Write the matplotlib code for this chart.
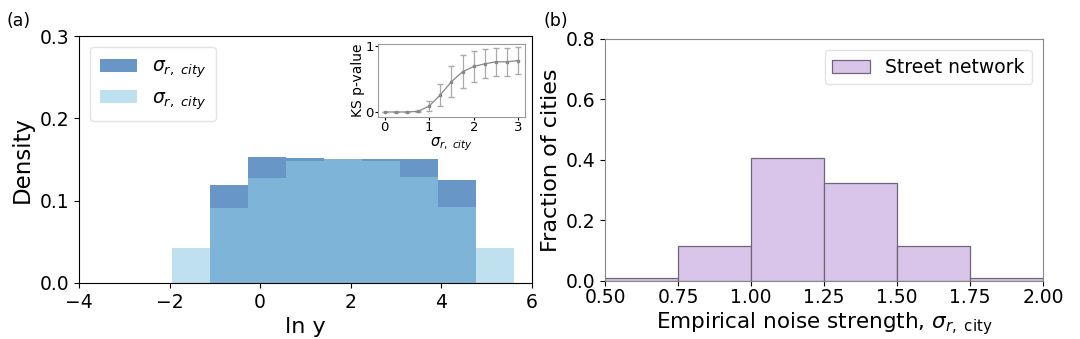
import numpy as np
import matplotlib
matplotlib.use("Agg")
import matplotlib.pyplot as plt

# ---- data ----
# panel (a): density histograms of ln y
dark_edges = [-1.11, -0.272, 0.566, 1.404, 2.242, 3.08, 3.918, 4.756]
dark_heights = [0.1196, 0.1535, 0.152, 0.151, 0.150, 0.1506, 0.1245]
light_edges = [-1.948, -1.11, -0.272, 0.566, 1.404, 2.242, 3.08, 3.918, 4.756, 5.594]
light_heights = [0.0424, 0.0914, 0.128, 0.148, 0.151, 0.1486, 0.129, 0.0927, 0.0429]
legend_labels = [r"$\sigma_{r,\ city}$", r"$\sigma_{r,\ city}$"]

# inset: KS p-value vs sigma
ks_sigma = [0.0, 0.25, 0.5, 0.75, 1.0, 1.25, 1.5, 1.75, 2.0, 2.25, 2.5, 2.75, 3.0]
ks_p = [0.0, 0.0, 0.0, 0.01, 0.09, 0.26, 0.46, 0.61, 0.69, 0.73, 0.76, 0.76, 0.78]
ks_err = [0.0, 0.0, 0.0, 0.005, 0.075, 0.17, 0.23, 0.25, 0.23, 0.22, 0.21, 0.21, 0.20]

# panel (b): fraction of cities
b_edges = [0.5, 0.75, 1.0, 1.25, 1.5, 1.75, 2.0]
b_fraction = [0.011, 0.115, 0.406, 0.323, 0.115, 0.011]
b_label = "Street network"

# ---- figure ----
fig = plt.figure(figsize=(10.8, 3.39), dpi=100)

ax1 = fig.add_axes([0.0731, 0.1652, 0.4195, 0.7286])
dw = np.diff(dark_edges)
lw_ = np.diff(light_edges)
ax1.bar(dark_edges[:-1], dark_heights, width=dw, align='edge',
        color='#6897c7', linewidth=0, label=legend_labels[0])
ax1.bar(light_edges[:-1], light_heights, width=lw_, align='edge',
        color='#8fcae5', alpha=0.58, linewidth=0, label=legend_labels[1])
ax1.set_xlim(-4, 6)
ax1.set_ylim(0, 0.3)
ax1.set_xticks([-4, -2, 0, 2, 4, 6])
ax1.set_yticks([0.0, 0.1, 0.2, 0.3])
ax1.tick_params(labelsize=13.5)
ax1.set_xlabel("ln y", fontsize=16)
ax1.set_ylabel("Density", fontsize=16.5)
ax1.legend(loc='upper left', fontsize=13.5, bbox_to_anchor=(0.0, 1.0),
           borderaxespad=0.6, framealpha=0.8, edgecolor='#dddddd',
           handleheight=0.7, labelspacing=0.45, borderpad=0.5)

# inset
axi = fig.add_axes([0.35, 0.6549, 0.1361, 0.2153])
axi.errorbar(ks_sigma, ks_p, yerr=ks_err, color='#888888', ecolor='#aaaaaa',
             marker='s', markersize=2, linewidth=0.9, elinewidth=0.9, capsize=2.5)
axi.set_xlim(-0.15, 3.15)
axi.set_ylim(-0.076, 1.03)
axi.set_xticks([0, 1, 2, 3])
axi.set_yticks([0, 1])
axi.tick_params(labelsize=9.5, length=2, pad=1)
for s in axi.spines.values():
    s.set_color('#999999')
axi.set_ylabel("KS p-value", fontsize=10, labelpad=0)
axi.set_xlabel(r"$\sigma_{r,\ city}$", fontsize=10.5, labelpad=1)

# panel b
ax2 = fig.add_axes([0.5602, 0.1711, 0.4055, 0.7139])
ax2.bar(b_edges[:-1], b_fraction, width=np.diff(b_edges), align='edge',
        color='#d9c5ea', edgecolor='#6f6578', linewidth=0.9, label=b_label)
ax2.set_xlim(0.5, 2.0)
ax2.set_ylim(0, 0.8)
ax2.set_xticks(b_edges)
ax2.set_xticklabels(["0.50", "0.75", "1.00", "1.25", "1.50", "1.75", "2.00"])
ax2.set_yticks([0.0, 0.2, 0.4, 0.6, 0.8])
ax2.tick_params(labelsize=13.5)
ax2.tick_params(axis='x', pad=1.5)
for s in ax2.spines.values():
    s.set_color('#888888')
ax2.set_xlabel(r"Empirical noise strength, $\sigma_{r,\ \mathrm{city}}$", fontsize=15.5, labelpad=2)
ax2.set_ylabel("Fraction of cities", fontsize=16, labelpad=3)
ax2.legend(loc='upper right', fontsize=13.5, framealpha=0.8, edgecolor='#dddddd',
           borderaxespad=0.6)

fig.text(0.0056, 0.9366, "(a)", fontsize=12.5, va='center', ha='left')
fig.text(0.5028, 0.9366, "(b)", fontsize=12.5, va='center', ha='left')

fig.savefig("out.png", dpi=100)
